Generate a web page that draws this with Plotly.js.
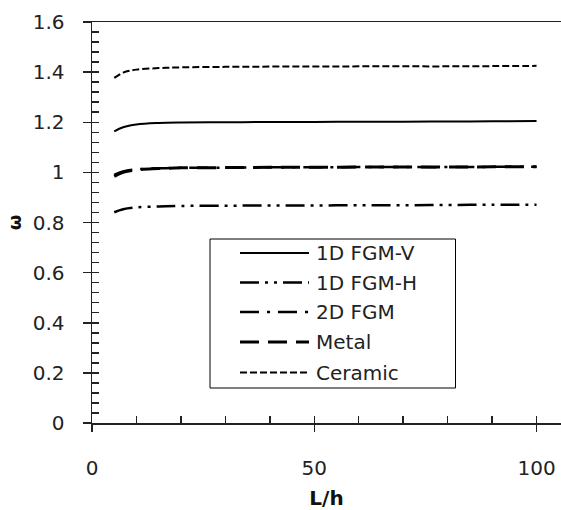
<!DOCTYPE html>
<html>
<head>
<meta charset="utf-8">
<script src="https://cdn.plot.ly/plotly-3.0.1.min.js"></script>
<style>html,body{margin:0;padding:0;background:#fff;}#chart{width:561px;height:510px;}</style>
</head>
<body>
<div id="chart"></div>
<script>
// L/h values
const lh = [5, 7, 10, 15, 20, 30, 40, 50, 60, 70, 80, 90, 100];
// omega values per series
const fgmV    = [1.164, 1.180, 1.191, 1.197, 1.199, 1.200, 1.201, 1.201, 1.202, 1.202, 1.203, 1.204, 1.205];
const fgmH    = [0.841, 0.853, 0.860, 0.864, 0.866, 0.867, 0.868, 0.868, 0.869, 0.869, 0.870, 0.871, 0.871];
const fgm2D   = [0.990, 1.004, 1.012, 1.016, 1.018, 1.019, 1.020, 1.020, 1.021, 1.021, 1.021, 1.022, 1.022];
const metal   = [0.984, 1.000, 1.010, 1.015, 1.018, 1.019, 1.020, 1.020, 1.021, 1.021, 1.021, 1.022, 1.022];
const ceramic = [1.377, 1.398, 1.410, 1.416, 1.419, 1.421, 1.422, 1.422, 1.423, 1.423, 1.423, 1.424, 1.425];
const seriesNames = ['1D FGM-V', '1D FGM-H', '2D FGM', 'Metal', 'Ceramic'];
const xTicks = [0, 50, 100];

const FONT = '"DejaVu Sans", "Open Sans", sans-serif';
const TXT = '#222';
const styles = [
  {width: 2, dash: 'solid'},
  {width: 2.5, dash: '19px,6px,3px,6px,3px,6px'},
  {width: 2.5, dash: '19px,8px,3px,8px'},
  {width: 3, dash: '19px,9px'},
  {width: 2, dash: '7px,3px'}
];
const values = [fgmV, fgmH, fgm2D, metal, ceramic];

const traces = values.map((v, i) => ({
  x: lh, y: v, name: seriesNames[i], type: 'scatter', mode: 'lines',
  line: {color: '#000', width: styles[i].width, dash: styles[i].dash, shape: 'spline'},
  hoverinfo: 'skip', showlegend: false
}));
// empty helper traces so the tick-only overlay axes get drawn
traces.push({x: [], y: [], xaxis: 'x2', yaxis: 'y', type: 'scatter', mode: 'lines', showlegend: false, hoverinfo: 'skip'});
traces.push({x: [], y: [], xaxis: 'x', yaxis: 'y2', type: 'scatter', mode: 'lines', showlegend: false, hoverinfo: 'skip'});

// legend drawn in the paper frame (box, long line samples, labels)
const L = 92, R = 561, T = 22, B = 423;
const px = v => (v - L) / (R - L);
const py = v => (B - v) / (B - T);
const rowY = [253, 282.5, 312, 342, 372.5];
const shapes = [{
  type: 'rect', xref: 'paper', yref: 'paper',
  x0: px(210), x1: px(455.5), y0: py(388), y1: py(239),
  line: {color: '#000', width: 1}, fillcolor: '#fff', layer: 'above'
}];
const annotations = [];
seriesNames.forEach((n, i) => {
  shapes.push({
    type: 'line', xref: 'paper', yref: 'paper',
    x0: px(240), x1: px(309), y0: py(rowY[i]), y1: py(rowY[i]),
    line: {color: '#000', width: styles[i].width, dash: styles[i].dash}, layer: 'above'
  });
  annotations.push({
    xref: 'paper', yref: 'paper', x: px(314), y: py(rowY[i]),
    xanchor: 'left', yanchor: 'middle', showarrow: false, text: n,
    font: {family: FONT, size: 20, color: TXT}
  });
});

const layout = {
  width: 561, height: 510,
  margin: {l: L, r: 561 - R, t: T, b: 510 - B, pad: 0},
  paper_bgcolor: '#fff', plot_bgcolor: '#fff',
  font: {family: FONT, color: TXT, size: 20},
  showlegend: false,
  shapes: shapes,
  annotations: annotations,
  xaxis: {
    range: [0, 105.5], tickvals: xTicks, ticktext: xTicks.map(String),
    ticks: 'outside', ticklen: 7, tickcolor: '#222', tickwidth: 1.5,
    showline: true, linecolor: '#222', linewidth: 1.5, mirror: true,
    showgrid: false, zeroline: false, ticklabelstandoff: 19,
    tickfont: {family: FONT, size: 20, color: TXT},
    title: {text: '<b>L/h</b>', font: {family: FONT, size: 20, color: '#111'}, standoff: 14},
    fixedrange: true
  },
  xaxis2: {
    overlaying: 'x', anchor: 'y', side: 'bottom', range: [0, 105.5],
    tick0: 0, dtick: 10, ticks: 'inside', ticklen: 7, tickcolor: '#222', tickwidth: 1.5,
    showticklabels: false, showline: false, showgrid: false, zeroline: false, fixedrange: true
  },
  yaxis: {
    range: [0, 1.6], tick0: 0, dtick: 0.2,
    ticks: 'outside', ticklen: 8, tickcolor: '#222', tickwidth: 1.5,
    showline: true, linecolor: '#222', linewidth: 1.5,
    showgrid: false, zeroline: false, ticklabelstandoff: 14,
    tickfont: {family: FONT, size: 20, color: TXT},
    title: {text: '<b>ω</b>', font: {family: FONT, size: 18, color: '#111'}, standoff: 6},
    fixedrange: true
  },
  yaxis2: {
    overlaying: 'y', anchor: 'x', side: 'left', range: [0, 1.6],
    tick0: 0, dtick: 0.04, ticks: 'inside', ticklen: 7, tickcolor: '#222', tickwidth: 1.5,
    showticklabels: false, showline: false, showgrid: false, zeroline: false, fixedrange: true
  }
};

Plotly.newPlot('chart', traces, layout, {staticPlot: true, displayModeBar: false});
</script>
</body>
</html>
